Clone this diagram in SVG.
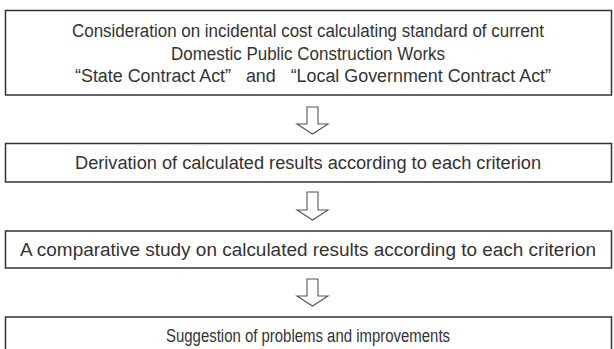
<svg xmlns="http://www.w3.org/2000/svg" width="614" height="349" viewBox="0 0 614 349">
<style>
.box{fill:#fff;stroke:#333;stroke-width:1.5}
.t{font-family:"Liberation Sans",Arial,sans-serif;font-size:18px;fill:#333;text-anchor:middle}
.arr{fill:#fff;stroke:#555;stroke-width:1.1;stroke-linejoin:miter}
</style>
<rect width="614" height="349" fill="#fff"/>
<g id="connectors">
<polygon class="arr" points="307,107 318,107 318,124 328,124 312.5,134 297,124 307,124"/>
<polygon class="arr" points="307,192 318,192 318,210 328,210 312.5,220 297,210 307,210"/>
<polygon class="arr" points="307,279 318,279 318,296 328,296 312.5,306 297,296 307,296"/>
</g>
<g id="n1">
<rect class="box" x="5.5" y="10.5" width="606" height="84.5"/>
<text class="t" x="308" y="37" textLength="472" lengthAdjust="spacingAndGlyphs">Consideration on incidental cost calculating standard of current</text>
<text class="t" x="308" y="59.5" textLength="274" lengthAdjust="spacingAndGlyphs">Domestic Public Construction Works</text>
<text class="t" x="313" y="82" textLength="476" lengthAdjust="spacingAndGlyphs" xml:space="preserve">“State Contract Act”   and   “Local Government Contract Act”</text>
</g>
<g id="n2">
<rect class="box" x="5.5" y="143.5" width="606" height="38.5"/>
<text class="t" x="308" y="169" textLength="466" lengthAdjust="spacingAndGlyphs">Derivation of calculated results according to each criterion</text>
</g>
<g id="n3">
<rect class="box" x="5.5" y="231" width="606" height="37"/>
<text class="t" x="308" y="256" textLength="576" lengthAdjust="spacingAndGlyphs">A comparative study on calculated results according to each criterion</text>
</g>
<g id="n4">
<rect class="box" x="5.5" y="317" width="606" height="45"/>
<text class="t" x="308" y="342" textLength="284" lengthAdjust="spacingAndGlyphs">Suggestion of problems and improvements</text>
</g>
</svg>
